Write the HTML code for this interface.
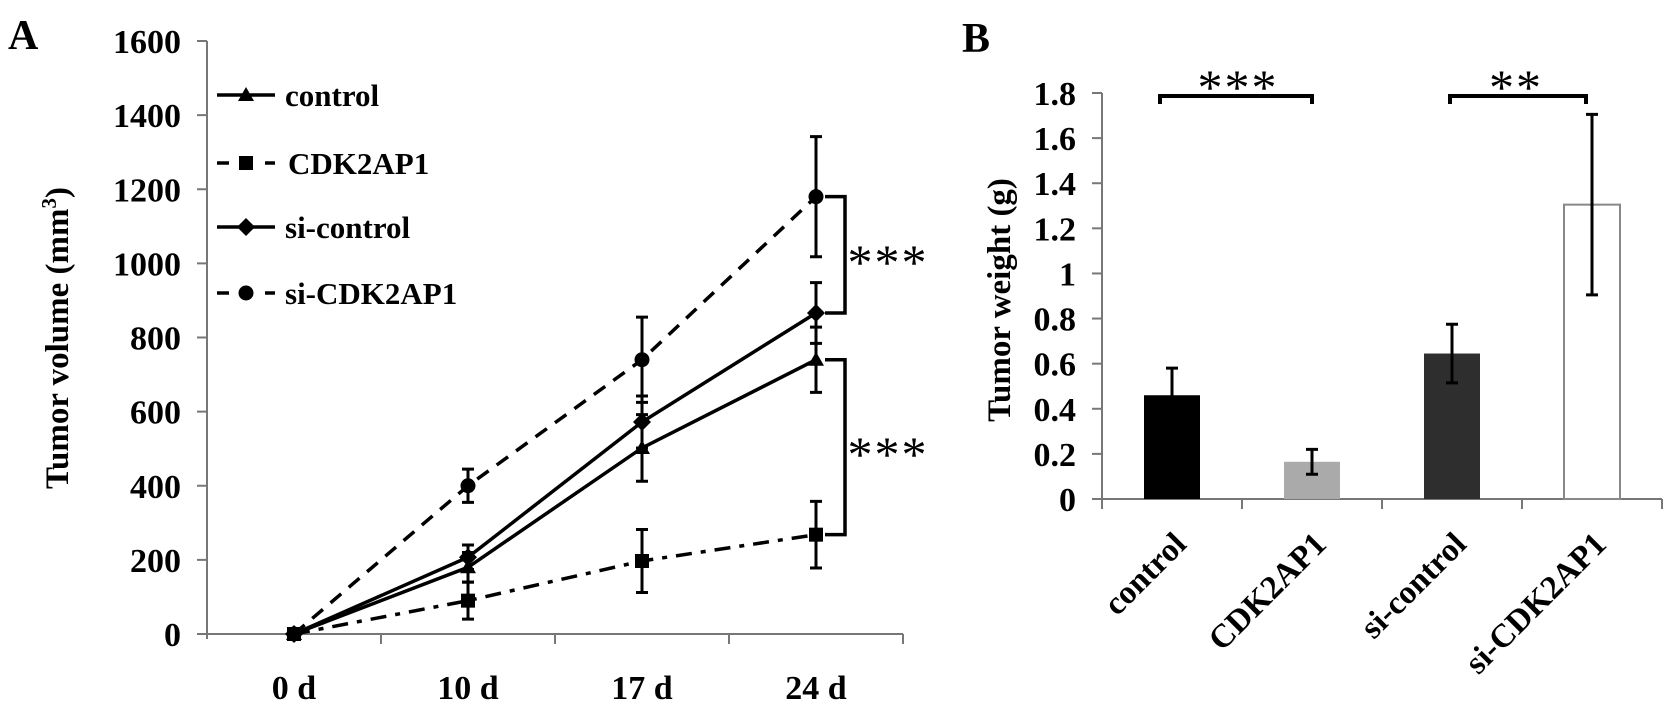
<!DOCTYPE html>
<html><head><meta charset="utf-8"><style>
html,body{margin:0;padding:0;background:#fff;}
svg{display:block;font-family:"Liberation Serif",serif;}
</style></head><body>
<svg id="chart" width="1677" height="710" viewBox="0 0 1677 710" xmlns="http://www.w3.org/2000/svg">
<g id="pa"></g>
<g id="pb"></g>
</svg>
<script>
// Panel A data
const daysA = ["0 d","10 d","17 d","24 d"];
const yTicksA = [0,200,400,600,800,1000,1200,1400,1600];
const controlVals = [0,180,502,740];
const controlErr = [0,40,90,88];
const cdkVals = [0,90,197,268];
const cdkErr = [0,50,85,90];
const siControlVals = [0,207,572,866];
const siControlErr = [0,33,70,82];
const siCdkVals = [0,400,740,1180];
const siCdkErr = [0,45,115,162];
// Panel B data
const catsB = ["control","CDK2AP1","si-control","si-CDK2AP1"];
const weightVals = [0.46,0.165,0.645,1.305];
const weightErr = [0.12,0.055,0.13,0.40];
const yTicksB = ["0","0.2","0.4","0.6","0.8","1","1.2","1.4","1.6","1.8"];

const NS="http://www.w3.org/2000/svg";
function mk(parent,tag,attrs,text){const e=document.createElementNS(NS,tag);for(const k in attrs)e.setAttribute(k,attrs[k]);if(text!==undefined)e.textContent=text;parent.appendChild(e);return e;}

// ---------- Panel A ----------
const A=document.getElementById('pa');
const axX0=207, yA0=634, pxPerA=(634-41)/1600;
const catW=174;
const xA=i=>axX0+catW*(i+0.5);
const yA=v=>yA0-v*pxPerA;
let e;
e=mk(A,'text',{x:8,y:49,'font-size':42,'font-weight':'bold'},'A');

e=mk(A,'line',{x1:axX0,y1:yA(1600),x2:axX0,y2:yA0+5,stroke:'#777','stroke-width':2});

e=mk(A,'line',{x1:axX0-10,y1:yA0,x2:axX0+catW*4,y2:yA0,stroke:'#777','stroke-width':2});

yTicksA.forEach(v=>{
  const t=mk(A,'line',{x1:axX0-10,y1:yA(v),x2:axX0,y2:yA(v),stroke:'#777','stroke-width':2});
  
  const l=mk(A,'text',{x:181,y:yA(v)+12,'font-size':34,'font-weight':'bold','text-anchor':'end'},String(v));
  
});
for(let i=1;i<=4;i++){const t=mk(A,'line',{x1:axX0+catW*i,y1:yA0,x2:axX0+catW*i,y2:yA0+10,stroke:'#777','stroke-width':2});
  }
daysA.forEach((d,i)=>{const l=mk(A,'text',{x:xA(i),y:699,'font-size':34,'font-weight':'bold','text-anchor':'middle'},d);
  });
e=mk(A,'text',{x:0,y:0,'font-size':33,'font-weight':'bold','text-anchor':'middle',transform:'translate(68,338) rotate(-90)'});

e.innerHTML='Tumor volume (mm<tspan dy="-12" font-size="21">3</tspan><tspan dy="12">)</tspan>';

function marker(g,type,x,y){
  let m;
  if(type==='tri') m=mk(g,'polygon',{points:`${x},${y-8} ${x-8},${y+6} ${x+8},${y+6}`,fill:'#000'});
  else if(type==='sq') m=mk(g,'rect',{x:x-7,y:y-7,width:14,height:14,fill:'#000'});
  else if(type==='dia') m=mk(g,'polygon',{points:`${x},${y-9} ${x+9},${y} ${x},${y+9} ${x-9},${y}`,fill:'#000'});
  else m=mk(g,'circle',{cx:x,cy:y,r:7.5,fill:'#000'});
  return m;
}
const seriesA=[
 {name:'control',vals:controlVals,err:controlErr,m:'tri',dash:'none'},
 {name:'CDK2AP1',vals:cdkVals,err:cdkErr,m:'sq',dash:'16 9 5 9'},
 {name:'si-control',vals:siControlVals,err:siControlErr,m:'dia',dash:'none'},
 {name:'si-CDK2AP1',vals:siCdkVals,err:siCdkErr,m:'circ',dash:'14 10'}
];
seriesA.forEach((s,si)=>{
  const g=mk(A,'g',{});
  
  const pts=s.vals.map((v,i)=>`${xA(i)},${yA(v)}`).join(' ');
  const pl=mk(g,'polyline',{points:pts,fill:'none',stroke:'#000','stroke-width':3.5,'stroke-dasharray':s.dash});
  
  s.vals.forEach((v,i)=>{
    if(s.err[i]>0){
      const eb=mk(g,'path',{d:`M${xA(i)},${yA(v+s.err[i])}V${yA(v-s.err[i])}M${xA(i)-6},${yA(v+s.err[i])}h12M${xA(i)-6},${yA(v-s.err[i])}h12`,stroke:'#000','stroke-width':3,fill:'none'});
      
    }
    const m=marker(g,s.m,xA(i),yA(v));
    
  });
  const ly=[95,163,227,293][si];
  const lg=mk(A,'g',{});
  
  mk(lg,'line',{x1:217,y1:ly,x2:275,y2:ly,stroke:'#000','stroke-width':3.5,'stroke-dasharray':s.dash==='none'?'none':'12 12'});
  marker(lg,s.m,246,ly);
  mk(lg,'text',{x:si===1?288:285,y:ly+11,'font-size':31,'font-weight':'bold'},s.name);
});
function bracketA(v1,v2){
  const b=mk(A,'path',{d:`M825,${yA(v1)}H845V${yA(v2)}H825`,stroke:'#000','stroke-width':3.5,fill:'none'});
  
  const t=mk(A,'text',{x:888,y:(yA(v1)+yA(v2))/2+24,'font-size':50,'text-anchor':'middle','letter-spacing':'2'},'***');
  
}
bracketA(siCdkVals[3],siControlVals[3]);
bracketA(controlVals[3],cdkVals[3]);

// ---------- Panel B ----------
const B=document.getElementById('pb');
const bx0=1102, yB0=499, pxPerB=(499-93)/1.8, catB=140;
const xB=i=>bx0+catB*(i+0.5);
const yB=v=>yB0-v*pxPerB;
e=mk(B,'text',{x:962,y:52,'font-size':42,'font-weight':'bold'},'B');

e=mk(B,'line',{x1:bx0,y1:yB(1.8),x2:bx0,y2:yB0+10,stroke:'#777','stroke-width':2});

e=mk(B,'line',{x1:bx0-10,y1:yB0,x2:bx0+catB*4,y2:yB0,stroke:'#777','stroke-width':2});

yTicksB.forEach(lab=>{const v=parseFloat(lab);
  const t=mk(B,'line',{x1:bx0-10,y1:yB(v),x2:bx0,y2:yB(v),stroke:'#777','stroke-width':2});
  
  const l=mk(B,'text',{x:1076,y:yB(v)+12,'font-size':34,'font-weight':'bold','text-anchor':'end'},lab);
  });
for(let i=1;i<=4;i++){const t=mk(B,'line',{x1:bx0+catB*i,y1:yB0,x2:bx0+catB*i,y2:yB0+10,stroke:'#777','stroke-width':2});
  }
e=mk(B,'text',{x:0,y:0,'font-size':33,'font-weight':'bold','text-anchor':'middle',transform:'translate(1010,300) rotate(-90)'},'Tumor weight (g)');

const fills=['#000','#aaa','#2e2e2e','#fff'];
catsB.forEach((c,i)=>{
  const v=weightVals[i];
  const r=mk(B,'rect',{x:xB(i)-28,y:yB(v),width:56,height:yB0-yB(v),fill:fills[i],stroke:i===3?'#888':'none','stroke-width':2});
  
  const er=weightErr[i];
  const eb=mk(B,'path',{d:`M${xB(i)},${yB(v+er)}V${yB(v-er)}M${xB(i)-6},${yB(v+er)}h12M${xB(i)-6},${yB(v-er)}h12`,stroke:'#000','stroke-width':3,fill:'none'});
  
  const l=mk(B,'text',{x:0,y:0,'font-size':33,'font-weight':'bold','text-anchor':'end',transform:`translate(${xB(i)+16},${546}) rotate(-45)`},c);
  
});
function bracketB(x1,x2,stars,sx){
  const b=mk(B,'path',{d:`M${x1},104V96H${x2}V104`,stroke:'#000','stroke-width':4,fill:'none'});
  
  const t=mk(B,'text',{x:sx,y:104,'font-size':50,'text-anchor':'middle','letter-spacing':'2'},stars);
  
}
bracketB(1160,1312,'***',1238);
bracketB(1450,1586,'**',1516);
</script>
</body></html>
